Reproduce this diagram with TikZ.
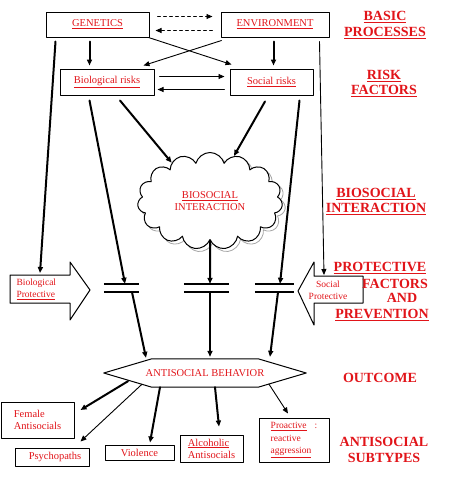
\documentclass[tikz,border=0pt]{standalone}
\usepackage{fontspec}
\setmainfont{Liberation Serif}
\usepackage{tikz}
\usetikzlibrary{arrows.meta}
\usetikzlibrary{shapes.symbols}
\definecolor{labred}{RGB}{225,20,25}
\tikzset{
  box/.style={draw,line width=1pt,inner sep=0pt,text=labred,font=\fontsize{10.5}{12}\selectfont},
  thickarr/.style={->,line width=2pt},
  thinarr/.style={->,line width=0.9pt},
  tag/.style={text=labred,align=center,font=\bfseries\fontsize{14}{15.5}\selectfont},
  barrier/.style={minimum width=#1,minimum height=8pt,inner sep=0pt}
}
\begin{document}
\begin{tikzpicture}[line cap=round,line join=round,>={Triangle[length=6pt,width=5pt]},x=1pt,y=-1pt]
\useasboundingbox (0,0) rectangle (453,480);
% basic processes and risks
\node [box,minimum width=103pt,minimum height=25pt] (gen) at (97.5,24.5) {\underline{GENETICS}\hspace{12pt}};
\node [box,minimum width=108pt,minimum height=25pt] (env) at (275,24.5) {\underline{ENVIRONMENT}\hspace{12pt}};
\node [box,minimum width=94pt,minimum height=26pt] (bio) at (107,82) {\underline{Biological risks}\hspace{14pt}};
\node [box,minimum width=83pt,minimum height=26pt] (soc) at (271.5,82) {\underline{Social risks}\hspace{14pt}};
\draw [thinarr,dashed] ([shift={(8,5)}]gen.north east) -- ([shift={(-8,5)}]env.north west);
\draw [thinarr,dashed] ([shift={(-8,-7)}]env.south west) -- ([shift={(6,-7)}]gen.south east);
\draw [thinarr] ([shift={(5,8)}]bio.north east) -- ([shift={(-5,8)}]soc.north west);
\draw [thinarr] ([shift={(-5,-6)}]soc.south west) -- ([shift={(3,-6)}]bio.south east);
\draw [thickarr] ([shift={(44,4)}]gen.south west) -- ([shift={(30,-3)}]bio.north west);
\draw [thickarr] ([shift={(53,4)}]env.south west) -- ([shift={(44,-3)}]soc.north west);
\draw [thinarr] ([shift={(-1,0)}]gen.south east) -- ([shift={(2,-4)}]soc.north west);
\draw [thinarr] ([shift={(1,3)}]env.south west) -- ([shift={(-11,-3)}]bio.north east);
% biosocial interaction
\node [cloud,cloud puffs=15,cloud ignores aspect,draw=gray!70,line width=0.8pt,minimum width=145pt,minimum height=97pt] at (213,204) {};
\node [cloud,cloud puffs=15,cloud ignores aspect,draw,fill=white,line width=1pt,minimum width=145pt,minimum height=97pt,
  text=labred,font=\fontsize{10.5}{12}\selectfont,align=center] (cloud) at (210,201) {\underline{BIOSOCIAL}\\INTERACTION\hspace{12pt}};
\draw [thickarr] ([shift={(13,5)}]bio.south) -- (cloud.135);
\draw [thickarr] ([shift={(-6.5,6)}]soc.south) -- (cloud.62);
% protective factors
\draw [line width=1pt] (10,275) -- (70,275) -- (70,262) -- (90,290) -- (70,320) -- (70,303) -- (10,303) -- cycle;
\draw [line width=1pt] (298,291) -- (314,262) -- (314,276) -- (363,276) -- (363,303) -- (314,303) -- (314,325) -- cycle;
\node [text=labred,align=left,anchor=west,font=\fontsize{9.5}{12}\selectfont] (bprot) at (13,289) {Biological\\\underline{Protective}};
\node [text=labred,align=center,font=\fontsize{9.5}{12}\selectfont] (sprot) at (328,290) {Social\\Protective};
\coordinate (bpTop) at (40,273);
\coordinate (spTop) at (324,275);
\node [barrier=35pt] (barL) at (121.5,288) {};
\node [barrier=45pt] (barM) at (206.5,288) {};
\node [barrier=39pt] (barR) at (274.5,288) {};
\foreach \b in {barL,barM,barR}
  \draw [line width=2pt,line cap=butt] (\b.north west) -- (\b.north east) (\b.south west) -- (\b.south east);
\draw [thickarr] ([shift={(10,4)}]gen.south west) -- (bpTop);
\draw [thinarr] ([shift={(-10,4)}]env.south east) -- (spTop);
% outcome
\node [minimum width=202pt,minimum height=28pt,inner sep=0pt,text=labred,font=\fontsize{10.5}{12}\selectfont] (hex) at (205,373) {ANTISOCIAL BEHAVIOR\hspace{20pt}};
\draw [line width=1pt] (hex.west) -- ([xshift=48pt]hex.north west) -- ([xshift=-48pt]hex.north east) -- (hex.east)
  -- ([xshift=-48pt]hex.south east) -- ([xshift=48pt]hex.south west) -- cycle;
\draw [thickarr] ([shift={(30,5)}]bio.south west) -- ([xshift=3.5pt]barL.north);
\draw [thickarr] ([xshift=10.5pt]barL.south) -- ([shift={(-59,-1)}]hex.north);
\draw [thickarr] (cloud.south) -- ([xshift=3.5pt]barM.north);
\draw [thickarr] ([xshift=3.5pt]barM.south) -- ([shift={(5,-2)}]hex.north);
\draw [thickarr] ([shift={(-14,5)}]soc.south east) -- ([xshift=5.5pt]barR.north);
\draw [thickarr] ([xshift=3.5pt]barR.south) -- ([shift={(65,-2)}]hex.north);
% antisocial subtypes
\node [box,minimum width=73pt,minimum height=36pt,align=left] (fem) at (37.5,420) {Female\\Antisocials\hspace{12pt}};
\node [box,minimum width=74pt,minimum height=18pt] (psy) at (52,457) {\hspace{6pt}Psychopaths};
\node [box,minimum width=69pt,minimum height=15pt] (vio) at (139.5,452.5) {Violence};
\node [box,minimum width=63pt,minimum height=27pt,align=left] (alc) at (211.5,448.5) {\underline{Alcoholic}\hspace{12pt}\\Antisocials};
\node [box,minimum width=70pt,minimum height=44pt,align=left,font=\fontsize{9.5}{12.5}\selectfont] (pro) at (294,440) {\underline{Proactive}\hspace{8pt}:\\reactive\\\underline{aggression}\hspace{14pt}};
\draw [thickarr] ([shift={(-77,-6)}]hex.south) -- ([shift={(6,-10)}]fem.east);
\draw [thinarr] ([shift={(-63,-3)}]hex.south) -- ([shift={(-9,-6)}]psy.north east);
\draw [thickarr] ([shift={(-45,0)}]hex.south) -- ([shift={(10.5,-2)}]vio.north);
\draw [thickarr] ([shift={(10,0)}]hex.south) -- ([shift={(7.5,-8)}]alc.north);
\draw [thinarr] ([shift={(64,-3)}]hex.south) -- ([shift={(-6,-4)}]pro.north);
% stage labels
\node [tag] (tBasic) at (385,25) {\underline{BASIC}\\\underline{PROCESSES}};
\node [tag] (tRisk) at (384,83.5) {\underline{RISK}\\\underline{FACTORS}};
\node [tag] (tBiosoc) at (376,201.5) {\underline{BIOSOCIAL}\\\underline{INTERACTION}};
\node [tag] (tProt) at (380,268) {\underline{PROTECTIVE}};
\node [tag] (tFact) at (395,284) {FACTORS};
\node [tag] (tAnd) at (402,298) {AND};
\node [tag] (tPrev) at (382,315) {\underline{PREVENTION}};
\node [tag] (tOut) at (380,378) {OUTCOME};
\node [tag] (tSub) at (384,450) {ANTISOCIAL\\SUBTYPES};
\end{tikzpicture}
\end{document}
